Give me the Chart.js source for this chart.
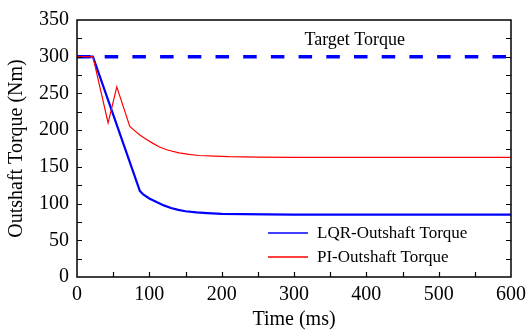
<!DOCTYPE html>
<html><head><meta charset="utf-8">
<script src="https://cdn.jsdelivr.net/npm/chart.js@4"></script>
<style>html,body{margin:0;padding:0;background:#fff}#w{width:532px;height:333px}</style>
</head><body><div id="w"><canvas id="c"></canvas></div>
<script>
const lqrTime = [0, 22, 87, 92, 100, 110, 120, 130, 140, 150, 165, 180, 200, 230, 260, 300, 400, 500, 600];
const lqrTorque = [300, 300, 117, 112, 107, 102, 97.5, 94, 91.5, 89.5, 88, 87, 86, 85.5, 85.2, 85, 85, 85, 85];
const piTime = [0, 22, 43, 55, 73, 80, 86, 95, 105, 114, 125, 141, 155, 168, 190, 210, 250, 300, 400, 500, 600];
const piTorque = [300, 300, 210, 259, 205, 199, 194, 188, 182, 177, 173, 169, 167, 165.5, 164.5, 163.8, 163.3, 163, 163, 163, 163];
const targetTime = [0, 600];
const targetTorque = [300, 300];
const seriesLabels = ["LQR-Outshaft Torque", "PI-Outshaft Torque", "Target Torque"];
const xTicks = [0, 100, 200, 300, 400, 500, 600];
const yTicks = [0, 50, 100, 150, 200, 250, 300, 350];

const pts = (xs, ys) => xs.map((x, i) => ({x, y: ys[i]}));
const F = "'Liberation Serif','Times New Roman',serif";

const deco = {
  id: 'deco',
  afterDatasetsDraw(chart) {
    const {ctx, chartArea: a, scales: {x, y}} = chart;
    ctx.save();
    ctx.strokeStyle = '#000';
    ctx.lineWidth = 1.5;
    ctx.strokeRect(a.left, a.top, a.right - a.left, a.bottom - a.top);
    ctx.lineWidth = 1.2;
    for (let v = 50; v < 600; v += 50) {
      const px = Math.round(x.getPixelForValue(v)) + 0.5;
      ctx.beginPath(); ctx.moveTo(px, a.bottom); ctx.lineTo(px, a.bottom - 5); ctx.stroke();
    }
    for (let v = 25; v < 350; v += 25) {
      const py = Math.round(y.getPixelForValue(v)) + 0.5;
      ctx.beginPath(); ctx.moveTo(a.left, py); ctx.lineTo(a.left + 5, py);
      ctx.moveTo(a.right, py); ctx.lineTo(a.right - 5, py); ctx.stroke();
    }
    ctx.fillStyle = '#000';
    ctx.font = '18px ' + F;
    ctx.textAlign = 'center'; ctx.textBaseline = 'middle';
    ctx.fillText(seriesLabels[2], x.getPixelForValue(384), y.getPixelForValue(322));
    const items = [[seriesLabels[0], '#0000ff'], [seriesLabels[1], '#ff0000']];
    ctx.textAlign = 'left';
    ctx.font = '17px ' + F;
    items.forEach(([t, c], i) => {
      const yy = 233 + i * 24;
      ctx.strokeStyle = c; ctx.lineWidth = 1.3;
      ctx.beginPath(); ctx.moveTo(268, yy); ctx.lineTo(308, yy); ctx.stroke();
      ctx.fillText(t, 317, yy + 1);
    });
    ctx.restore();
  }
};

new Chart(document.getElementById('c'), {
  type: 'scatter',
  data: {
    datasets: [
      {label: seriesLabels[1], data: pts(piTime, piTorque), showLine: true, borderColor: '#ff0000', borderWidth: 1.2, pointRadius: 0, tension: 0},
      {label: seriesLabels[0], data: pts(lqrTime, lqrTorque), showLine: true, borderColor: '#0000ff', borderWidth: 2.2, pointRadius: 0, tension: 0},
      {label: seriesLabels[2], data: pts(targetTime, targetTorque), showLine: true, borderColor: '#0000ff', borderWidth: 3.5, borderDash: [13.5, 14.2], pointRadius: 0}
    ]
  },
  options: {
    responsive: true, maintainAspectRatio: false, animation: false,
    layout: {padding: {top: 15, right: 18, left: 0, bottom: 0}},
    plugins: {legend: {display: false}, tooltip: {enabled: false}},
    scales: {
      x: {
        type: 'linear', min: 0, max: 600,
        afterBuildTicks: s => { s.ticks = xTicks.map(v => ({value: v})); },
        afterFit: s => { s.height = 56; },
        grid: {display: false, drawTicks: false},
        border: {display: false},
        ticks: {color: '#000', font: {family: F, size: 20}, padding: 6, maxRotation: 0},
        title: {display: true, text: 'Time (ms)', color: '#000', font: {family: F, size: 20}, padding: {top: 0, bottom: 1}}
      },
      y: {
        type: 'linear', min: 0, max: 350,
        afterBuildTicks: s => { s.ticks = yTicks.map(v => ({value: v})); },
        afterFit: s => { s.width = 77; },
        grid: {display: false, drawTicks: false},
        border: {display: false},
        ticks: {color: '#000', font: {family: F, size: 20}, padding: 8},
        title: {display: true, text: 'Outshaft Torque (Nm)', color: '#000', font: {family: F, size: 20}, padding: {top: 5, bottom: 0}}
      }
    }
  },
  plugins: [deco]
});
</script></body></html>
